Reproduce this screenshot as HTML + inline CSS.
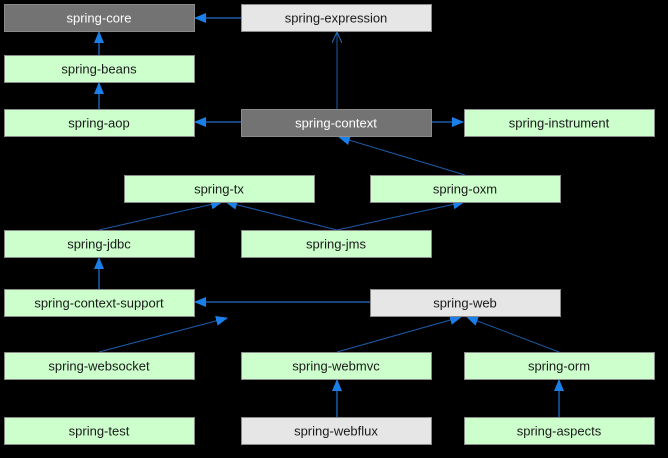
<!DOCTYPE html>
<html><head><style>
body{margin:0;background:#000;width:668px;height:458px;overflow:hidden}
svg{display:block}
text{font-family:"Liberation Sans","Noto Sans CJK SC",sans-serif;font-size:13px;text-anchor:middle;dominant-baseline:central}
</style></head><body>
<svg width="668" height="458" xmlns="http://www.w3.org/2000/svg">
<defs>
<marker id="a" markerWidth="12" markerHeight="10" refX="11" refY="5" orient="auto" markerUnits="userSpaceOnUse"><path d="M0,0 L12,5 L0,10 Z" fill="#1a7fe8"/></marker>
<marker id="o" markerWidth="12" markerHeight="10" refX="11" refY="5" orient="auto" markerUnits="userSpaceOnUse"><path d="M0,0 L11,5 L0,10" fill="none" stroke="#2a6fc0" stroke-width="1"/></marker>
</defs>
<g stroke="#1c5aa8" stroke-width="1.5" fill="none">
<line x1="241" y1="18" x2="195" y2="18" marker-end="url(#a)"/>
<line x1="99" y1="55" x2="99" y2="32" marker-end="url(#a)"/>
<line x1="99" y1="109" x2="99" y2="83" marker-end="url(#a)"/>
<line x1="241" y1="122" x2="195" y2="122" marker-end="url(#a)"/>
<line x1="337" y1="109" x2="337" y2="32" stroke-width="1" marker-end="url(#o)"/>
<line x1="431" y1="122" x2="463" y2="122" marker-end="url(#a)"/>
<line x1="465" y1="175" x2="339" y2="137" stroke-width="1" marker-end="url(#a)"/>
<line x1="99" y1="230" x2="222" y2="202" stroke-width="1" marker-end="url(#a)"/>
<line x1="337" y1="230" x2="226" y2="202" stroke-width="1" marker-end="url(#a)"/>
<line x1="337" y1="230" x2="464" y2="202" stroke-width="1" marker-end="url(#a)"/>
<line x1="99" y1="289" x2="99" y2="258" marker-end="url(#a)"/>
<line x1="370" y1="302" x2="195" y2="302" marker-end="url(#a)"/>
<line x1="99" y1="352" x2="227" y2="318" stroke-width="1" marker-end="url(#a)"/>
<line x1="337" y1="352" x2="461" y2="317" stroke-width="1" marker-end="url(#a)"/>
<line x1="559" y1="352" x2="467" y2="317" stroke-width="1" marker-end="url(#a)"/>
<line x1="337" y1="417" x2="337" y2="380" marker-end="url(#a)"/>
<line x1="559" y1="417" x2="559" y2="380" marker-end="url(#a)"/>
</g>
<g stroke="#8a8a8a" stroke-width="1">
<rect x="4.5" y="4.5" width="190" height="27" fill="#737373"/>
<rect x="241.5" y="4.5" width="190" height="27" fill="#e6e6e6"/>
<rect x="4.5" y="55.5" width="190" height="27" fill="#ccffcc"/>
<rect x="4.5" y="109.5" width="190" height="27" fill="#ccffcc"/>
<rect x="241.5" y="109.5" width="190" height="27" fill="#737373"/>
<rect x="464.5" y="109.5" width="190" height="27" fill="#ccffcc"/>
<rect x="124.5" y="175.5" width="190" height="27" fill="#ccffcc"/>
<rect x="370.5" y="175.5" width="190" height="27" fill="#ccffcc"/>
<rect x="4.5" y="230.5" width="190" height="27" fill="#ccffcc"/>
<rect x="241.5" y="230.5" width="190" height="27" fill="#ccffcc"/>
<rect x="4.5" y="289.5" width="190" height="27" fill="#ccffcc"/>
<rect x="370.5" y="289.5" width="190" height="27" fill="#e6e6e6"/>
<rect x="4.5" y="352.5" width="190" height="27" fill="#ccffcc"/>
<rect x="241.5" y="352.5" width="190" height="27" fill="#ccffcc"/>
<rect x="464.5" y="352.5" width="190" height="27" fill="#ccffcc"/>
<rect x="4.5" y="417.5" width="190" height="27" fill="#ccffcc"/>
<rect x="241.5" y="417.5" width="190" height="27" fill="#e6e6e6"/>
<rect x="464.5" y="417.5" width="190" height="27" fill="#ccffcc"/>
</g>
<g fill="#1a1a1a">
<text x="99" y="18" fill="#fff">spring-core</text>
<text x="336" y="18">spring-expression</text>
<text x="99" y="69">spring-beans</text>
<text x="99" y="123">spring-aop</text>
<text x="336" y="123" fill="#fff">spring-context</text>
<text x="559" y="123">spring-instrument</text>
<text x="219" y="189">spring-tx</text>
<text x="465" y="189">spring-oxm</text>
<text x="99" y="244">spring-jdbc</text>
<text x="336" y="244">spring-jms</text>
<text x="99" y="303">spring-context-support</text>
<text x="465" y="303">spring-web</text>
<text x="99" y="366">spring-websocket</text>
<text x="336" y="366">spring-webmvc</text>
<text x="559" y="366">spring-orm</text>
<text x="99" y="431">spring-test</text>
<text x="336" y="431">spring-webflux</text>
<text x="559" y="431">spring-aspects</text>
</g>
</svg>
</body></html>
